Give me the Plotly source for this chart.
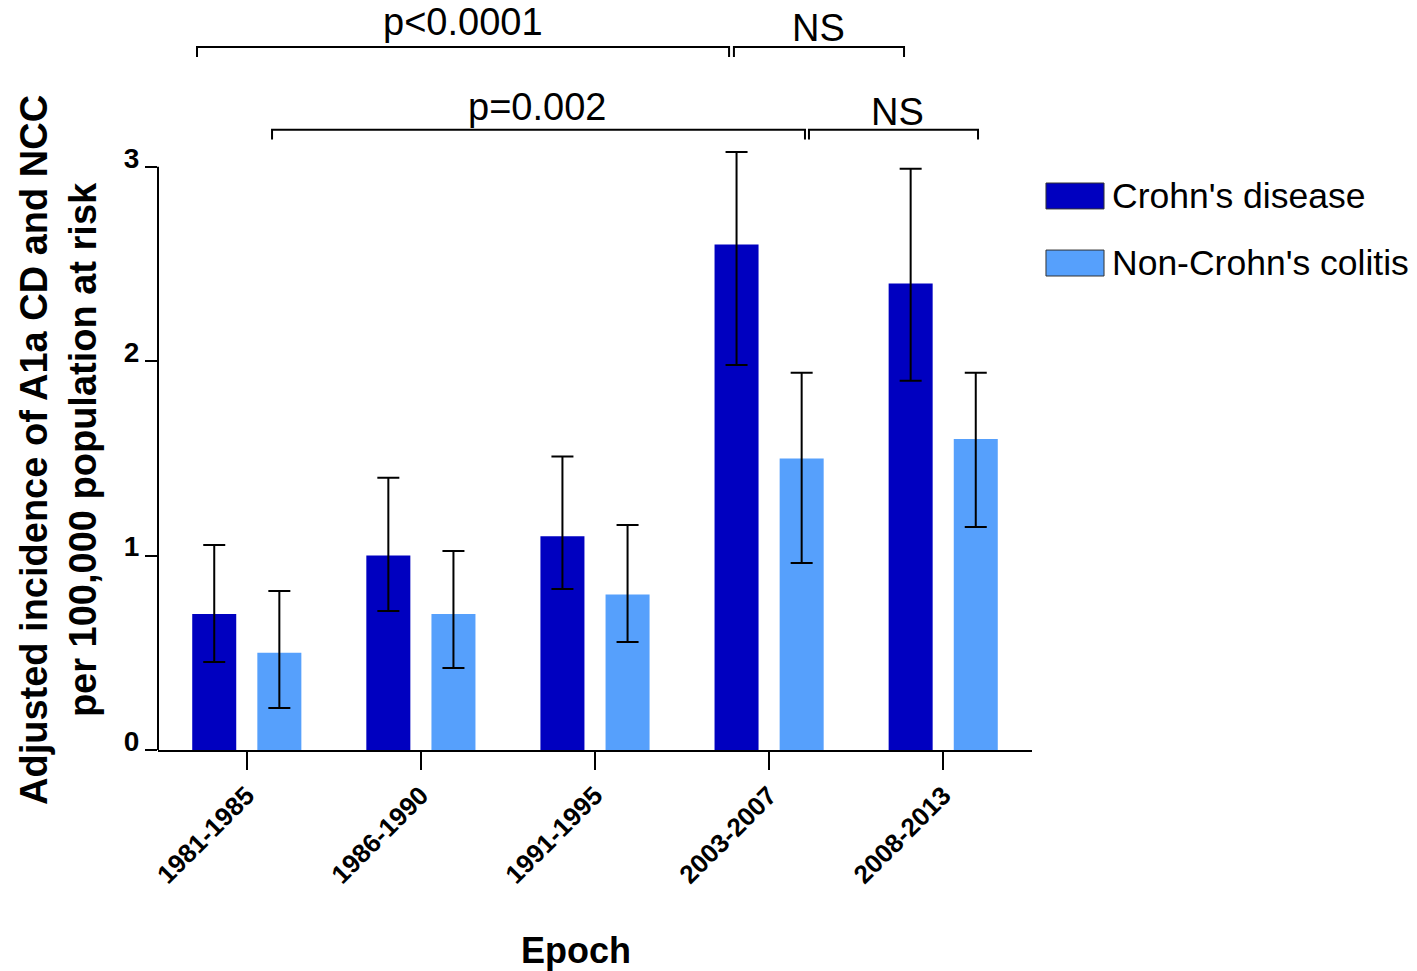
import plotly.graph_objects as go

# Epochs and adjusted incidence (per 100,000 at risk)
epochs = ["1981-1985", "1986-1990", "1991-1995", "2003-2007", "2008-2013"]
cd_rate = [0.7, 1.0, 1.1, 2.6, 2.4]
cd_upper = [1.055, 1.40, 1.51, 3.076, 2.99]
cd_lower = [0.453, 0.715, 0.828, 1.98, 1.90]
ncc_rate = [0.5, 0.7, 0.8, 1.5, 1.6]
ncc_upper = [0.818, 1.024, 1.157, 1.94, 1.94]
ncc_lower = [0.216, 0.422, 0.556, 0.962, 1.147]
y_ticks = [0, 1, 2, 3]

CD_COLOR = "#0000C0"
NCC_COLOR = "#56A0FC"
FONT = "Arial, Liberation Sans, sans-serif"


def err(vals, hi, lo):
    return dict(type="data", symmetric=False,
                array=[h - v for v, h in zip(vals, hi)],
                arrayminus=[v - l for v, l in zip(vals, lo)],
                color="black", thickness=2, width=11)


fig = go.Figure()
fig.add_trace(go.Bar(x=epochs, y=cd_rate, name="Crohn's disease",
                     marker=dict(color=CD_COLOR, line=dict(width=0)),
                     error_y=err(cd_rate, cd_upper, cd_lower), showlegend=False))
fig.add_trace(go.Bar(x=epochs, y=ncc_rate, name="Non-Crohn's colitis",
                     marker=dict(color=NCC_COLOR, line=dict(width=0)),
                     error_y=err(ncc_rate, ncc_upper, ncc_lower), showlegend=False))

shapes = []
# y axis line drawn only from 0 to 3
shapes.append(dict(type="line", xref="paper", yref="y", x0=0, x1=0, y0=0, y1=3,
                   line=dict(color="black", width=2)))

# significance brackets: (x0, x1, y_line, y_foot)
brackets = [
    (-0.286, 2.77, 3.616, 3.565),
    (2.798, 3.775, 3.616, 3.565),
    (0.145, 3.206, 3.19, 3.14),
    (3.229, 4.20, 3.19, 3.14),
]
for x0, x1, yl, yf in brackets:
    shapes.append(dict(type="path", xref="x", yref="y",
                       path=f"M {x0},{yf} L {x0},{yl} L {x1},{yl} L {x1},{yf}",
                       line=dict(color="black", width=2)))

annotations = [
    dict(x=1.242, y=3.745, text="p<0.0001"),
    dict(x=3.281, y=3.714, text="NS"),
    dict(x=1.667, y=3.308, text="p=0.002"),
    dict(x=3.735, y=3.282, text="NS"),
]
for a in annotations:
    a.update(xref="x", yref="y", showarrow=False, xanchor="center", yanchor="middle",
             font=dict(family=FONT, size=38, color="black"))

# legend drawn as swatches with labels
legend_items = [("Crohn's disease", CD_COLOR, 0.7387), ("Non-Crohn's colitis", NCC_COLOR, 0.6493)]
for label, color, yc in legend_items:
    shapes.append(dict(type="rect", xref="paper", yref="paper",
                       x0=1.016, x1=1.0824, y0=yc - 0.0173, y1=yc + 0.0173,
                       fillcolor=color, line=dict(color="#333333", width=1)))
    annotations.append(dict(xref="paper", yref="paper", x=1.0895, y=yc, text=label,
                            showarrow=False, xanchor="left", yanchor="middle",
                            font=dict(family=FONT, size=35.5, color="black")))

annotations.append(dict(xref="paper", yref="paper", x=-0.1144, y=0.4,
                        text="<b>Adjusted incidence of A1a CD and NCC<br>per 100,000 population at risk</b>",
                        textangle=-90, showarrow=False, xanchor="center", yanchor="middle",
                        font=dict(family=FONT, size=38, color="black")))
annotations.append(dict(xref="paper", yref="paper", x=0.478, y=-0.2667, text="<b>Epoch</b>",
                        showarrow=False, xanchor="center", yanchor="middle",
                        font=dict(family=FONT, size=36, color="black")))

fig.update_layout(
    width=1417, height=971,
    margin=dict(l=158, r=385, t=0, b=221),
    paper_bgcolor="white", plot_bgcolor="white",
    barmode="group", bargap=0.252, bargroupgap=0.324,
    shapes=shapes, annotations=annotations,
    font=dict(family=FONT, color="black"),
)
fig.update_xaxes(range=[-0.51, 4.51], showline=True, linecolor="black", linewidth=2,
                 ticks="outside", ticklen=18, tickwidth=2, tickcolor="black",
                 tickangle=-45, showgrid=False, zeroline=False,
                 tickfont=dict(family=FONT, size=26, color="black", weight="bold"))
fig.update_yaxes(range=[0, 3.858], tickvals=y_ticks, showline=False, showgrid=False,
                 zeroline=False, ticks="outside", ticklen=12, tickwidth=2, tickcolor="black",
                 ticklabelshift=-9, ticklabelstandoff=0,
                 tickfont=dict(family=FONT, size=28, color="black", weight="bold"))

fig.write_html("out.html")
